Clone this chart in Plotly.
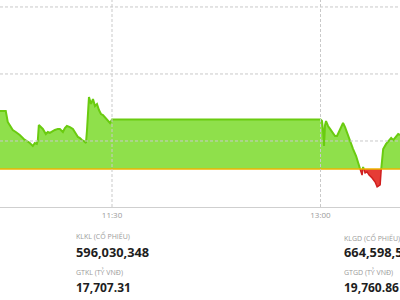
import plotly.graph_objects as go
import pandas as pd
import numpy as np

DAY = "2021-06-01 "
# intraday index (time, value)
times = [
    "10:41:32", "10:44:08", "10:45:00", "10:45:52", "10:47:10", "10:48:28", "10:50:11", "10:51:55",
    "10:53:13", "10:54:31", "10:55:49", "10:56:41", "10:57:33", "10:57:59", "10:58:25", "10:59:17",
    "11:00:09", "11:01:26", "11:02:18", "11:03:10", "11:04:28", "11:05:20", "11:06:38", "11:07:30",
    "11:08:48", "11:09:40", "11:10:32", "11:11:50", "11:13:07", "11:14:00", "11:15:17", "11:16:09",
    "11:17:01", "11:17:53", "11:18:45", "11:19:11", "11:19:37", "11:20:03", "11:20:55", "11:21:47",
    "11:22:39", "11:23:31", "11:24:22", "11:25:14", "11:26:06", "11:26:58", "11:27:50", "11:28:42",
    "11:29:08", "11:30:00",
    "13:00:00", "13:00:39", "13:01:05", "13:01:31", "13:01:57", "13:02:23", "13:03:15", "13:04:07",
    "13:05:25", "13:06:16", "13:07:08", "13:08:00", "13:08:52", "13:09:44", "13:10:36", "13:11:28",
    "13:12:46", "13:14:04", "13:15:22", "13:16:40", "13:17:31", "13:17:57", "13:18:23", "13:19:15",
    "13:20:07", "13:20:59", "13:22:17", "13:23:35", "13:24:27", "13:25:19", "13:25:45", "13:26:11",
    "13:26:37", "13:27:03", "13:28:20", "13:29:38", "13:30:30", "13:31:22", "13:32:40", "13:33:32",
    "13:34:24",
]
values = [
    1247.24, 1247.24, 1246.42, 1246.19, 1245.82, 1245.67, 1245.45, 1245.15,
    1245.00, 1244.85, 1244.63, 1244.85, 1244.78, 1245.07, 1246.19, 1246.04,
    1245.90, 1245.52, 1245.67, 1245.60, 1245.75, 1245.82, 1245.90, 1245.90,
    1245.67, 1245.97, 1246.12, 1246.04, 1245.90, 1245.67, 1245.30, 1245.22,
    1245.07, 1245.00, 1244.85, 1245.75, 1247.31, 1248.28, 1247.76, 1248.13,
    1247.61, 1247.76, 1247.31, 1247.01, 1246.94, 1246.79, 1246.64, 1246.49,
    1246.34, 1246.60,
    1246.60, 1246.49, 1245.82, 1244.63, 1246.19, 1246.49, 1246.12, 1245.90,
    1245.60, 1245.37, 1245.37, 1245.67, 1246.04, 1246.34, 1246.04, 1245.60,
    1245.00, 1244.40, 1243.88, 1243.13, 1242.69, 1242.46, 1243.06, 1242.61,
    1242.69, 1242.46, 1242.24, 1241.94, 1241.57, 1241.64, 1241.72, 1242.84,
    1243.73, 1244.40, 1244.78, 1245.07, 1245.22, 1245.07, 1245.30, 1245.52,
    1245.45,
]
ref_value = 1242.91
grid_values = [1245, 1250, 1255]
tick_times = ["11:30", "13:00"]
x_range = ["10:41:39", "13:34:19"]
y_range = [1240.075, 1255.52]

stats_left = [("KLKL (CỔ PHIẾU)", "596,030,348"), ("GTKL (TỶ VNĐ)", "17,707.31")]
stats_right = [("KLGD (CỔ PHIẾU)", "664,598,5"), ("GTGD (TỶ VNĐ)", "19,760.86")]

GREEN_FILL = "#8fe04b"
GREEN_LINE = "#6acb10"
RED_FILL = "#e63c36"
RED_LINE = "#d01e1e"
REF_COLOR = "#ecb400"
GRID = "#c9c9c9"

# insert crossing points with the reference line (for clean fills)
ts = pd.to_datetime([DAY + t for t in times]).astype("int64").to_numpy().astype(float)
vs = np.array(values, dtype=float)
T, V = [ts[0]], [vs[0]]
for i in range(len(vs) - 1):
    a, b = vs[i] - ref_value, vs[i + 1] - ref_value
    if a * b < 0:
        f = a / (a - b)
        T.append(ts[i] + f * (ts[i + 1] - ts[i]))
        V.append(ref_value)
    T.append(ts[i + 1])
    V.append(vs[i + 1])
T = pd.to_datetime(np.array(T).astype("int64"))
V = np.array(V)
up = np.maximum(V, ref_value)
dn = np.minimum(V, ref_value)
green_line = [v if v >= ref_value else None for v in V]
red_line = [v if v <= ref_value else None for v in V]
base = [ref_value] * len(V)

fig = go.Figure()
fig.add_trace(go.Scatter(x=T, y=base, mode="lines", line=dict(width=0), hoverinfo="skip"))
fig.add_trace(go.Scatter(x=T, y=up, mode="lines", line=dict(width=0), fill="tonexty",
                         fillcolor=GREEN_FILL, hoverinfo="skip"))
fig.add_trace(go.Scatter(x=T, y=base, mode="lines", line=dict(width=0), hoverinfo="skip"))
fig.add_trace(go.Scatter(x=T, y=dn, mode="lines", line=dict(width=0), fill="tonexty",
                         fillcolor=RED_FILL, hoverinfo="skip"))
fig.add_trace(go.Scatter(x=T, y=green_line, mode="lines", line=dict(color=GREEN_LINE, width=2),
                         connectgaps=False))
fig.add_trace(go.Scatter(x=T, y=red_line, mode="lines", line=dict(color=RED_LINE, width=1.5),
                         connectgaps=False))
fig.add_trace(go.Scatter(x=[DAY + x_range[0], DAY + x_range[1]], y=[ref_value, ref_value],
                         mode="lines", line=dict(color=REF_COLOR, width=1.5)))

for g in grid_values:
    fig.add_shape(type="line", xref="paper", x0=0, x1=1, yref="y", y0=g, y1=g,
                  line=dict(color=GRID, width=1, dash="3px,2px"), layer="above")
for tt in tick_times:
    fig.add_shape(type="line", xref="x", x0=DAY + tt, x1=DAY + tt, yref="paper", y0=0, y1=1,
                  line=dict(color=GRID, width=1, dash="3px,2px"), layer="above")

def add_stats(items, x, ys, sizes):
    for (label, num), (yl, yn), sz in zip(items, ys, sizes):
        fig.add_annotation(xref="paper", yref="paper", x=x, y=yl, xanchor="left", yanchor="middle",
                           text=label, showarrow=False,
                           font=dict(family="Open Sans", size=7, color="#9a9a9a"))
        fig.add_annotation(xref="paper", yref="paper", x=x, y=yn, xanchor="left", yanchor="middle",
                           text="<b>" + num + "</b>", showarrow=False,
                           font=dict(family="Open Sans", size=sz, color="#1e1e1e"))

add_stats(stats_left, 74 / 400, [(-0.1377, -0.216), (-0.314, -0.389)], [12.8, 12])
add_stats(stats_right, 342 / 400, [(-0.148, -0.219), (-0.3126, -0.388)], [12.8, 12])

fig.update_layout(
    width=400, height=300, margin=dict(l=0, r=0, t=0, b=93),
    paper_bgcolor="white", plot_bgcolor="white", showlegend=False,
    xaxis=dict(type="date", range=[DAY + x_range[0], DAY + x_range[1]],
               tickvals=[DAY + t for t in tick_times], ticktext=tick_times,
               showgrid=False, zeroline=False, showline=True, linecolor="#cfcfcf", linewidth=1,
               ticks="", tickfont=dict(family="Open Sans", size=8, color="#9a9a9a")),
    yaxis=dict(range=y_range, showgrid=False, zeroline=False, showticklabels=False, showline=False),
)
fig.write_html("out.html")
